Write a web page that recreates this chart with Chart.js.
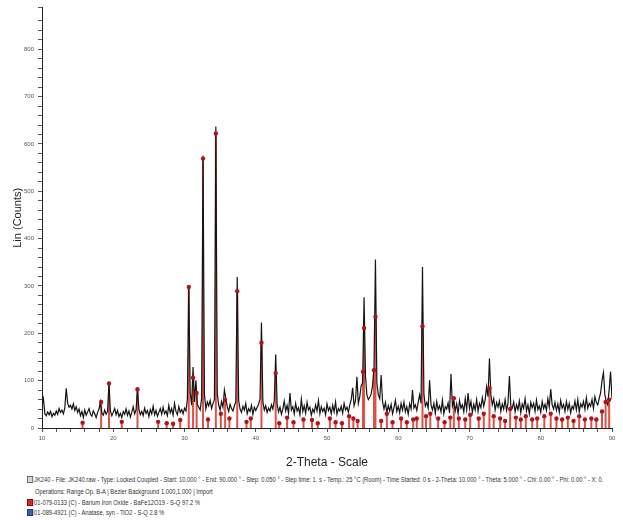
<!DOCTYPE html>
<html>
<head>
<meta charset="utf-8">
<script src="https://cdn.jsdelivr.net/npm/chart.js@4"></script>
<style>
	body { margin: 0; background: #fff; }
	#wrap { position: relative; width: 623px; height: 520px; overflow: hidden; }
	#wrap canvas { position: absolute; left: 0; top: 0; }
	.info {
		position: absolute;
		left: 27px;
		font-family: "Liberation Sans", Arial, sans-serif;
		font-size: 6.6px;
		line-height: 8px;
		color: #333;
		white-space: nowrap;
		transform-origin: 0 50%;
	}
	.ico {
		display: inline-block;
		width: 7px;
		height: 7px;
		margin-right: 1px;
		vertical-align: -1px;
		border: 1px solid #666;
		box-sizing: border-box;
	}
	.ico.raw { background: #d8d8d8; }
	.ico.bafe { background: #d22b2b; border-color: #7a1010; }
	.ico.tio2 { background: #3a5fb0; border-color: #1f3570; }
</style>
</head>
<body>
<div id="wrap">
	<canvas id="xrd" width="623" height="470"></canvas>
	<div class="info" id="scanInfo" style="top:476px;"><span class="ico raw"></span>JK240 - File: JK240.raw - Type: Locked Coupled - Start: 10.000 ° - End: 90.000 ° - Step: 0.050 ° - Step time: 1. s - Temp.: 25 °C (Room) - Time Started: 0 s - 2-Theta: 10.000 ° - Theta: 5.000 ° - Chi: 0.00 ° - Phi: 0.00 ° - X: 0.</div>
	<div class="info" style="top:488px; left:35px;">Operations: Range Op. B-A | Bezier Background 1.000,1.000 | Import</div>
	<div class="info" style="top:499px;"><span class="ico bafe"></span>01-079-0133 (C) - Barium Iron Oxide - BaFe12O19 - S-Q 97.2 %</div>
	<div class="info" style="top:509px;"><span class="ico tio2"></span>01-089-4921 (C) - Anatase, syn - TiO2 - S-Q 2.8 %</div>
</div>

<script>
( function() { 'use strict';

	// measured pattern, 2-theta from 10 to 90 deg
	const twoThetaStart = 10;
	const twoThetaStep = 0.2;
	const counts = [
		48, 62, 30, 26, 34,   28, 35, 24, 31, 27,   36, 29, 41, 33, 38,   30, 42, 84, 52, 44,
		48, 40, 51, 37, 45,   33, 40, 26, 35, 22,   38, 27, 34, 41, 29,   25, 36, 30, 22, 33,
		40, 55, 31, 27, 38,   29, 35, 94, 36, 26,   33, 41, 28, 37, 24,   31, 22, 35, 29, 40,
		27, 36, 23, 33, 45,   30, 38, 82, 40, 28,   35, 26, 42, 31, 37,   24, 39, 30, 46, 28,
		37, 25, 33, 41, 29,   44, 30, 36, 26, 48,   32, 41, 27, 52, 35,   28, 45, 33, 39, 30,
		42, 36, 60, 300, 75,  48, 129, 55, 101, 50, 44, 38, 62, 575, 70,  40, 55, 47, 58, 41,
		52, 60, 637, 72, 48,  38, 56, 44, 80, 62,   45, 35, 50, 41, 36,   47, 55, 319, 58, 40,
		33, 46, 38, 52, 30,   41, 35, 48, 29, 44,   37, 44, 50, 62, 223,  55, 38, 47, 33, 42,
		36, 49, 40, 58, 155,  50, 34, 44, 29, 40,   57, 36, 48, 31, 74,   38, 45, 30, 52, 36,
		43, 28, 61, 35, 47,   31, 54, 38, 44, 27,   40, 33, 49, 36, 58,   30, 45, 35, 42, 28,
		51, 37, 44, 30, 48,   34, 55, 29, 41, 36,   46, 31, 52, 38, 44,   33, 49, 60, 85, 47,
		58, 108, 52, 66, 90,  95, 276, 110, 70, 60, 65, 72, 90, 130, 356, 95, 70, 62, 112, 55,
		40, 54, 33, 47, 36,   50, 30, 43, 58, 35,   46, 32, 52, 38, 55,   34, 45, 29, 51, 40,
		80, 42, 49, 37, 54,   70, 52, 340, 72, 46,  54, 42, 101, 49, 38,  52, 31, 56, 39, 47,
		34, 59, 30, 45, 40,   53, 32, 114, 46, 57,  36, 51, 30, 58, 42,   49, 34, 62, 39, 74,
		41, 56, 33, 50, 38,   60, 35, 52, 43, 64,   46, 60, 87, 66, 147,  70, 49, 62, 38, 54,
		44, 57, 35, 51, 40,   60, 37, 52, 110, 46,  42, 55, 34, 49, 39,   57, 32, 51, 41, 62,
		36, 49, 30, 54, 43,   52, 35, 59, 39, 47,   33, 56, 41, 50, 37,   62, 44, 82, 49, 40,
		54, 37, 51, 33, 58,   42, 50, 35, 56, 39,   52, 32, 46, 40, 57,   38, 60, 34, 51, 44,
		56, 39, 64, 42, 52,   46, 60, 41, 66, 54,   49, 62, 74, 100, 117, 70, 56, 49, 80, 119,
		62
	];

	// reference card 01-079-0133, BaFe12O19 (stick positions and heights)
	const refAngles = [
		15.7, 18.3, 19.4, 21.2, 23.4, 26.3, 27.5, 28.4, 29.4, 30.6,
		31.2, 31.7, 32.6, 33.3, 34.4, 35.1, 35.7, 36.3, 37.4, 38.7,
		39.3, 40.8, 42.8, 43.3, 44.4, 45.3, 46.7, 47.9, 48.7, 50.4,
		51.2, 52.1, 53.1, 53.7, 54.3, 55.05, 55.2, 56.6, 56.8, 57.6,
		58.4, 59.2, 60.4, 61.2, 62.1, 62.6, 63.4, 63.9, 64.5, 65.6,
		66.5, 67.3, 67.8, 68.5, 69.4, 70.1, 71.3, 72.0, 72.8, 73.4,
		74.3, 75.0, 75.7, 76.5, 77.2, 77.9, 78.8, 79.5, 80.5, 81.4,
		82.2, 83.0, 83.8, 84.6, 85.4, 86.2, 87.1, 87.8, 88.6, 89.1,
		89.6
	];
	const refCounts = [
		11, 55, 94, 13, 82, 13, 10, 9, 17, 298,
		106, 74, 569, 18, 622, 30, 59, 20, 289, 13,
		20, 180, 116, 10, 22, 12, 18, 17, 10, 20,
		12, 10, 25, 20, 15, 119, 211, 122, 235, 15,
		30, 12, 20, 12, 18, 20, 215, 25, 30, 20,
		12, 22, 63, 20, 18, 28, 20, 30, 84, 25,
		20, 15, 40, 22, 18, 25, 18, 20, 25, 30,
		20, 18, 22, 15, 25, 18, 20, 18, 35, 55,
		60
	];

	const xTickLabels = [ 10, 20, 30, 40, 50, 60, 70, 80, 90 ];
	const yTickLabels = [ 0, 100, 200, 300, 400, 500, 600, 700, 800 ];

	let XRDchart = {

		/**
		 * Build the datasets, draw, then squeeze the scan info lines
		 */
		init: function() {
			let trace = counts.map( function( c, i ) {
				return { x: twoThetaStart + i * twoThetaStep, y: c };
			} );

			// each stick: baseline -> height, then a gap
			let sticks = [];
			let tops = [];
			refAngles.forEach( function( a, i ) {
				sticks.push( { x: a, y: 0 } );
				sticks.push( { x: a, y: refCounts[ i ] } );
				sticks.push( { x: a, y: null } );
				tops.push( { x: a, y: refCounts[ i ] } );
			} );

			this.draw( trace, sticks, tops );
			this.fitInfo();
		},

		/**
		 * The long scan line has to end at about x = 603
		 */
		fitInfo: function() {
			let first = document.getElementById( 'scanInfo' );
			let scale = ( 603 - 27 ) / first.scrollWidth;
			document.querySelectorAll( '.info' ).forEach( function( el ) {
				el.style.transform = 'scaleX(' + scale + ')';
			} );
		},

		draw: function( trace, sticks, tops ) {
			let tickFont = { family: '"Liberation Sans", Arial, sans-serif', size: 6 };

			new Chart( document.getElementById( 'xrd' ), {
				type: 'scatter',
				data: {
					datasets: [
						{
							data: sticks,
							showLine: true,
							spanGaps: false,
							borderColor: 'rgba(214, 52, 40, 0.85)',
							borderWidth: 2,
							pointRadius: 0,
							order: 3
						},
						{
							data: trace,
							showLine: true,
							borderColor: '#141414',
							borderWidth: 1.2,
							pointRadius: 0,
							tension: 0,
							order: 2
						},
						{
							data: tops,
							pointRadius: 2.2,
							pointBackgroundColor: '#b3121a',
							pointBorderWidth: 0,
							order: 1
						}
					]
				},
				options: {
					responsive: false,
					animation: false,
					events: [],
					layout: { padding: { top: 7, right: 11, left: 0, bottom: 0 } },
					plugins: { legend: { display: false }, tooltip: { enabled: false } },
					scales: {
						x: {
							type: 'linear',
							min: 10,
							max: 90,
							afterFit: function( s ) { s.height = 42; },
							border: { color: '#222', width: 1 },
							grid: { drawOnChartArea: false, tickLength: 4, color: '#555' },
							ticks: {
								stepSize: 2,
								autoSkip: false,
								maxRotation: 0,
								padding: 3,
								color: '#555',
								font: tickFont,
								callback: function( v ) { return xTickLabels.includes( v ) ? String( v ) : ''; }
							},
							title: {
								display: true,
								text: '2-Theta - Scale',
								color: '#222',
								font: { family: '"Liberation Sans", Arial, sans-serif', size: 12 },
								padding: { top: 0, bottom: 0 }
							}
						},
						y: {
							min: 0,
							max: 888,
							afterFit: function( s ) { s.width = 42; },
							border: { color: '#222', width: 1 },
							grid: { drawOnChartArea: false, tickLength: 4, color: '#555' },
							ticks: {
								stepSize: 20,
								autoSkip: false,
								padding: 4,
								color: '#555',
								font: tickFont,
								callback: function( v ) { return yTickLabels.includes( v ) ? String( v ) : ''; }
							},
							title: {
								display: true,
								text: 'Lin (Counts)',
								color: '#222',
								font: { family: '"Liberation Sans", Arial, sans-serif', size: 11 },
								padding: { top: 11, bottom: 0 }
							}
						}
					}
				}
			} );
		}
	};

	XRDchart.init();
})();
</script>
</body>
</html>
